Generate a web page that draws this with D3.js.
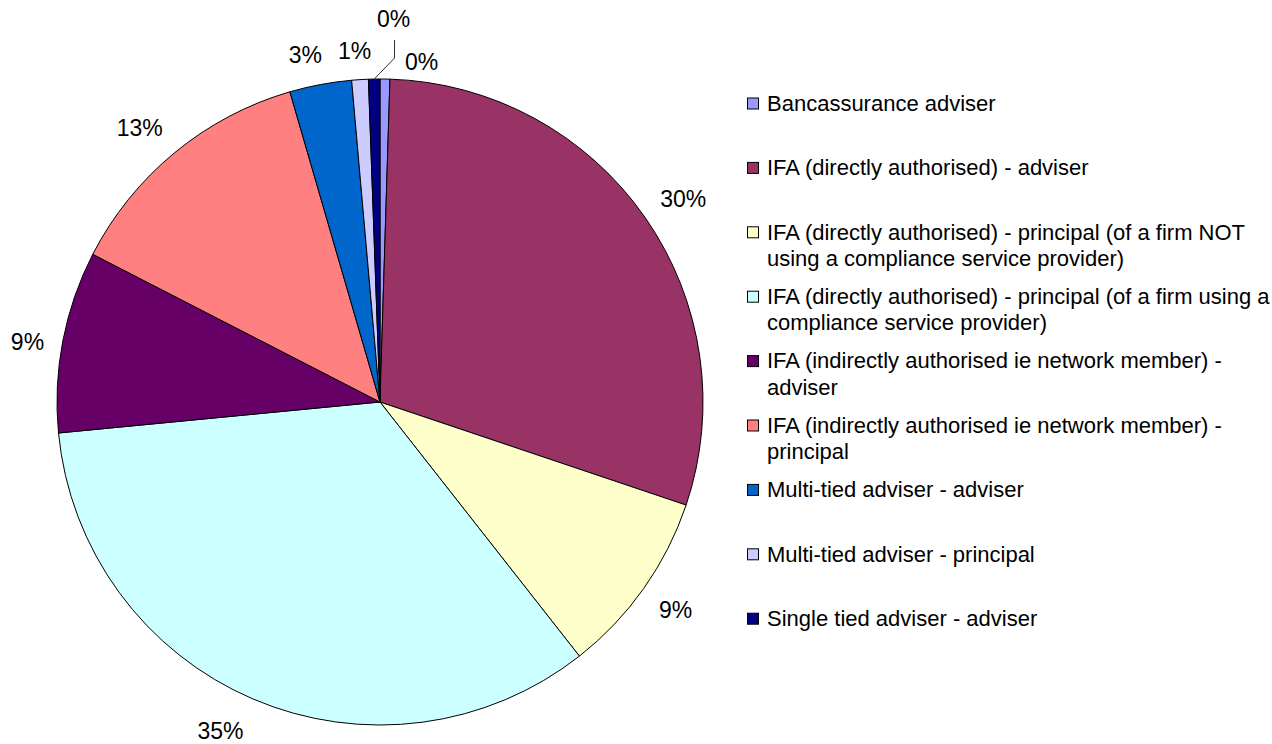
<!DOCTYPE html>
<html>
<head>
<meta charset="utf-8">
<script src="https://cdn.jsdelivr.net/npm/d3@7"></script>
<style>
  html, body { margin: 0; padding: 0; background: #fff; }
  svg { display: block; font-family: Arial, "Liberation Sans", sans-serif; }
</style>
</head>
<body>
<svg id="chart" width="1272" height="744"></svg>
<script>
// ---- data ----
const categories = [
  "Bancassurance adviser",
  "IFA (directly authorised) - adviser",
  "IFA (directly authorised) - principal (of a firm NOT using a compliance service provider)",
  "IFA (directly authorised) - principal (of a firm using a compliance service provider)",
  "IFA (indirectly authorised ie network member) - adviser",
  "IFA (indirectly authorised ie network member) - principal",
  "Multi-tied adviser - adviser",
  "Multi-tied adviser - principal",
  "Single tied adviser - adviser"
];
const legendLines = [
  ["Bancassurance adviser"],
  ["IFA (directly authorised) - adviser"],
  ["IFA (directly authorised) - principal (of a firm NOT", "using a compliance service provider)"],
  ["IFA (directly authorised) - principal (of a firm using a", "compliance service provider)"],
  ["IFA (indirectly authorised ie network member) -", "adviser"],
  ["IFA (indirectly authorised ie network member) -", "principal"],
  ["Multi-tied adviser - adviser"],
  ["Multi-tied adviser - principal"],
  ["Single tied adviser - adviser"]
];
const values = [0.49, 29.68, 9.24, 34.06, 9.09, 12.94, 3.1, 0.83, 0.57];
const percentLabels = ["0%", "30%", "9%", "35%", "9%", "13%", "3%", "1%", "0%"];
const colors = ["#9999FF", "#993366", "#FFFFCC", "#CCFFFF", "#660066", "#FF8080", "#0066CC", "#CCCCFF", "#000080"];

// ---- layout config ----
const cx = 380, cy = 402, R = 323, labelR = 362;
const labelNudge = [[36, 22], [6, 4], [0, -1], [-17, -4], [3, 8], [-10, 5], [-8, 9], [-3, 10], [20, -21]];
const leaderIndex = 8;

const svg = d3.select("#chart");
const g = svg.append("g").attr("transform", `translate(${cx},${cy})`);

const pie = d3.pie().sort(null).value(d => d);
const arcs = pie(values);
const arc = d3.arc().innerRadius(0).outerRadius(R);

g.selectAll("path.slice")
  .data(arcs)
  .join("path")
  .attr("class", "slice")
  .attr("d", arc)
  .attr("fill", (d, i) => colors[i])
  .attr("stroke", "#000")
  .attr("stroke-width", 1)
  .attr("stroke-linejoin", "round");

function midPoint(d, rad) {
  const a = (d.startAngle + d.endAngle) / 2;
  return [Math.sin(a) * rad, -Math.cos(a) * rad];
}

arcs.forEach((d, i) => {
  const p = midPoint(d, labelR);
  const x = p[0] + labelNudge[i][0], y = p[1] + labelNudge[i][1];
  g.append("text")
    .attr("x", x).attr("y", y)
    .attr("dy", "0.35em")
    .attr("text-anchor", "middle")
    .attr("font-size", 23)
    .attr("fill", "#000")
    .text(percentLabels[i]);
  if (i === leaderIndex) {
    const s = midPoint(d, R);
    g.append("path")
      .attr("d", d3.line()([s, [x + 1, y + 39], [x + 1, y + 21]]))
      .attr("fill", "none")
      .attr("stroke", "#333")
      .attr("stroke-width", 1);
  }
});

// ---- legend ----
const legX = 747, legY0 = 103, legStep = 64.4, lineH = 26.5, sw = 11;
const leg = svg.append("g");
categories.forEach((c, i) => {
  const y = legY0 + i * legStep;
  leg.append("rect")
    .attr("x", legX + 0.5).attr("y", y - sw / 2 + 0.5)
    .attr("width", sw).attr("height", sw)
    .attr("fill", colors[i])
    .attr("stroke", "#000").attr("stroke-width", 1);
  const t = leg.append("text")
    .attr("font-size", 22)
    .attr("fill", "#000");
  legendLines[i].forEach((ln, k) => {
    t.append("tspan").attr("x", legX + 20).attr("y", y + k * lineH).attr("dy", "0.35em").text(ln);
  });
});
</script>
</body>
</html>
